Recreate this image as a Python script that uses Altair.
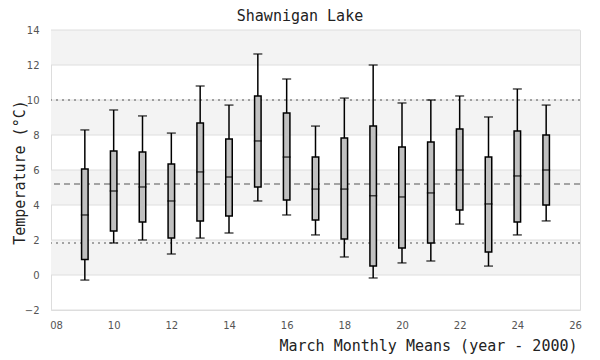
import altair as alt
import pandas as pd

years = [9, 10, 11, 12, 13, 14, 15, 16, 17, 18, 19, 20, 21, 22, 23, 24, 25]
whisker_low = [-0.29, 1.83, 2.0, 1.2, 2.11, 2.4, 4.23, 3.43, 2.29, 1.03, -0.17, 0.69, 0.8, 2.91, 0.51, 2.29, 3.09]
q1 = [0.88, 2.51, 3.03, 2.11, 3.09, 3.37, 5.03, 4.29, 3.14, 2.06, 0.51, 1.54, 1.83, 3.71, 1.31, 3.03, 4.0]
median = [3.43, 4.8, 5.03, 4.23, 5.89, 5.6, 7.66, 6.74, 4.91, 4.91, 4.53, 4.46, 4.69, 6.0, 4.06, 5.66, 6.0]
q3 = [6.06, 7.09, 7.03, 6.34, 8.69, 7.77, 10.23, 9.26, 6.74, 7.83, 8.51, 7.31, 7.6, 8.34, 6.74, 8.23, 8.0]
whisker_high = [8.29, 9.43, 9.09, 8.11, 10.8, 9.71, 12.63, 11.2, 8.51, 10.11, 12.0, 9.83, 10.0, 10.23, 9.03, 10.63, 9.71]

x_ticks = [8, 10, 12, 14, 16, 18, 20, 22, 24, 26]
y_ticks = [-2, 0, 2, 4, 6, 8, 10, 12, 14]
band_low = [0, 4, 8, 12]
band_high = [2, 6, 10, 14]
dotted_lines = [10.0, 1.83]
dashed_lines = [5.2]

df = pd.DataFrame({"year": years, "lo": whisker_low, "q1": q1, "med": median,
                   "q3": q3, "hi": whisker_high})
bands = pd.DataFrame({"y": band_low, "y2": band_high})
grid = pd.DataFrame({"y": y_ticks})
dotted = pd.DataFrame({"y": dotted_lines})
dashed = pd.DataFrame({"y": dashed_lines})

MONO = "DejaVu Sans Mono"
SANS = "DejaVu Sans"

xscale = alt.Scale(domain=[8, 26], nice=False, zero=False)
yscale = alt.Scale(domain=[-2, 14], nice=False, zero=False)

x_axis = alt.Axis(values=x_ticks, format="02d", grid=False, ticks=False, tickSize=0,
                  domain=False, labelFont=SANS, labelFontSize=10, labelColor="#555",
                  labelPadding=10, labelOverlap=False,
                  title="March Monthly Means (year - 2000)",
                  titleFont=MONO, titleFontSize=15, titleFontWeight="normal",
                  titleColor="#222", titleAnchor="end", titleAlign="right",
                  titleBaseline="alphabetic", titleX=526, titleY=40)
y_axis = alt.Axis(values=y_ticks, grid=False, ticks=False, tickSize=0, domain=False,
                  labelFont=SANS, labelFontSize=10, labelColor="#555", labelPadding=12,
                  labelOverlap=False,
                  title="Temperature (°C)", titleFont=MONO, titleFontSize=15,
                  titleFontWeight="normal", titleColor="#222", titleAngle=-90,
                  titleAlign="center", titleBaseline="alphabetic", titleX=-27, titleY=142)

band_layer = alt.Chart(bands).mark_rect(fill="#f3f3f3").encode(
    x=alt.value(0), x2=alt.value(529),
    y=alt.Y("y:Q", scale=yscale, axis=y_axis), y2="y2:Q")

grid_layer = alt.Chart(grid).mark_rule(color="#dedede", strokeWidth=1).encode(
    y=alt.Y("y:Q", scale=yscale, axis=y_axis))

dotted_layer = alt.Chart(dotted).mark_rule(color="#555", strokeWidth=1.2, strokeDash=[2, 4]).encode(
    y=alt.Y("y:Q", scale=yscale, axis=y_axis))
dashed_layer = alt.Chart(dashed).mark_rule(color="#555", strokeWidth=1.2, strokeDash=[6, 4]).encode(
    y=alt.Y("y:Q", scale=yscale, axis=y_axis))

base = alt.Chart(df)
whisker = base.mark_rule(color="black", strokeWidth=1.5).encode(
    x=alt.X("year:Q", scale=xscale, axis=x_axis),
    y=alt.Y("lo:Q", scale=yscale, axis=y_axis), y2="hi:Q")
cap_lo = base.mark_tick(color="black", size=9, thickness=1.5, orient="horizontal").encode(
    x=alt.X("year:Q", scale=xscale, axis=x_axis), y=alt.Y("lo:Q", scale=yscale, axis=y_axis))
cap_hi = base.mark_tick(color="black", size=9, thickness=1.5, orient="horizontal").encode(
    x=alt.X("year:Q", scale=xscale, axis=x_axis), y=alt.Y("hi:Q", scale=yscale, axis=y_axis))
box = base.mark_bar(fill="#c0c0c0", stroke="black", strokeWidth=1.5, size=6.5,
                    orient="vertical").encode(
    x=alt.X("year:Q", scale=xscale, axis=x_axis), y=alt.Y("q1:Q", scale=yscale, axis=y_axis), y2="q3:Q")
med = base.mark_tick(color="black", size=8, thickness=1.5, orient="horizontal").encode(
    x=alt.X("year:Q", scale=xscale, axis=x_axis), y=alt.Y("med:Q", scale=yscale, axis=y_axis))

chart = alt.layer(band_layer, grid_layer, dotted_layer, dashed_layer,
                  whisker, cap_lo, cap_hi, box, med).properties(
    width=529, height=280,
    title=alt.TitleParams("Shawnigan Lake", anchor="middle", frame="group",
                          font=MONO, fontSize=15, fontWeight="normal", color="#222",
                          dx=-15.5, offset=1),
    padding={"left": 43, "top": 22, "right": 12, "bottom": 46},
    autosize="none",
).configure_view(stroke="#dcdcdc", strokeWidth=1).configure_axis(
    labelOverlap=False).configure(background="white")

chart.save("out.html", embed_options={"renderer": "svg", "actions": False})
